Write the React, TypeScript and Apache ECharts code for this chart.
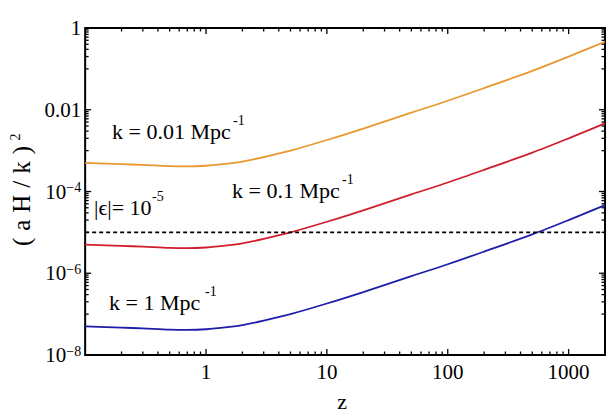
import React, { useEffect, useRef } from 'react';
import * as echarts from 'echarts';

// redshift sample points
const zValues = [0.1, 0.2, 0.3, 0.5, 0.7, 1, 1.5, 2, 3, 5, 10, 20, 50, 100, 200, 500, 1000, 2000];
// (aH/k)^2 for k = 0.01 Mpc^-1
const k001 = [5.0e-4, 4.68e-4, 4.47e-4, 4.17e-4, 4.12e-4, 4.27e-4, 4.79e-4, 5.37e-4, 6.92e-4, 1.0e-3, 1.82e-3, 3.47e-3, 8.51e-3, 1.66e-2, 3.39e-2, 8.91e-2, 0.2, 0.462];
// k = 0.1 Mpc^-1
const k01 = [5.0e-6, 4.68e-6, 4.47e-6, 4.17e-6, 4.12e-6, 4.27e-6, 4.79e-6, 5.37e-6, 6.92e-6, 1.0e-5, 1.82e-5, 3.47e-5, 8.51e-5, 1.66e-4, 3.39e-4, 8.91e-4, 2.0e-3, 4.65e-3];
// k = 1 Mpc^-1
const k1 = [5.0e-8, 4.68e-8, 4.47e-8, 4.17e-8, 4.12e-8, 4.27e-8, 4.79e-8, 5.37e-8, 6.92e-8, 1.0e-7, 1.82e-7, 3.47e-7, 8.51e-7, 1.66e-6, 3.39e-6, 8.91e-6, 2.0e-5, 4.65e-5];
// |epsilon| threshold
const epsilonLevel = 1e-5;

const X_MIN = 0.1;
const X_MAX = 2000;
const Y_MIN = 1e-8;
const Y_MAX = 1;

// tick definitions
const xMajorTicks = [1, 10, 100, 1000];
const xDecades = [0.1, 1, 10, 100, 1000];
const xMinorMultipliers = [2, 3, 4, 5, 6, 7, 8, 9];
const yMajorTicks = [1e-6, 1e-4, 1e-2];
const yMinorDecades = [1e-6, 1e-4, 1e-2, 1];
const yLabelExponents = [-8, -6, -4, -2, 0];
const yMinorMultipliers = [0.1, 0.2, 0.3, 0.4, 0.5, 0.6, 0.7, 0.8, 0.9];

// y-axis title characters
const yTitleChars = ['(', 'a', 'H', '/', 'k', ')'];
const yTitleSup = '2';

const SERIF = "'Liberation Serif', 'Times New Roman', serif";
const COLORS = { orange: '#E8982E', red: '#D01E2C', blue: '#1E1EA8' };

const MAJOR_LEN = 6;
const MINOR_LEN = 3.5;

export default function App() {
  const ref = useRef<HTMLDivElement>(null);

  useEffect(() => {
    if (!ref.current) return;
    const chart = echarts.init(ref.current, undefined, { renderer: 'svg' });

    const xTickData: number[][] = [];
    xMajorTicks.forEach((v) => xTickData.push([v, Y_MIN, MAJOR_LEN]));
    xDecades.forEach((d) =>
      xMinorMultipliers.forEach((m) => {
        const v = d * m;
        if (v < X_MAX) xTickData.push([v, Y_MIN, MINOR_LEN]);
      })
    );
    const yTickData: number[][] = [];
    yMajorTicks.forEach((v) => yTickData.push([X_MIN, v, MAJOR_LEN]));
    yMinorDecades.forEach((M) =>
      yMinorMultipliers.forEach((m) => yTickData.push([X_MIN, M * m, MINOR_LEN]))
    );

    const tickStyle = { stroke: '#000', lineWidth: 1.3 };

    const curve = (name: string, vals: number[], color: string) => ({
      type: 'line',
      name,
      data: zValues.map((z, i) => [z, vals[i]]),
      showSymbol: false,
      smooth: 0.3,
      lineStyle: { color, width: 1.8 },
      itemStyle: { color },
    });

    const series: any[] = [
      curve('k = 0.01', k001, COLORS.orange),
      curve('k = 0.1', k01, COLORS.red),
      curve('k = 1', k1, COLORS.blue),
      {
        type: 'line',
        name: 'epsilon',
        data: [
          [X_MIN, epsilonLevel],
          [X_MAX, epsilonLevel],
        ],
        showSymbol: false,
        lineStyle: { color: '#000', width: 1.6, type: [4, 3] },
      },
      {
        type: 'custom',
        name: 'xticks',
        clip: false,
        encode: { x: 0, y: 1 },
        data: xTickData,
        renderItem: (params: any, api: any) => {
          const v = api.value(0);
          const len = api.value(2);
          const b = api.coord([v, Y_MIN]);
          const t = api.coord([v, Y_MAX]);
          return {
            type: 'group',
            children: [
              { type: 'line', shape: { x1: b[0], y1: b[1], x2: b[0], y2: b[1] - len }, style: tickStyle },
              { type: 'line', shape: { x1: t[0], y1: t[1], x2: t[0], y2: t[1] + len }, style: tickStyle },
            ],
          };
        },
      },
      {
        type: 'custom',
        name: 'yticks',
        clip: false,
        encode: { x: 0, y: 1 },
        data: yTickData,
        renderItem: (params: any, api: any) => {
          const v = api.value(1);
          const len = api.value(2);
          const l = api.coord([X_MIN, v]);
          const r = api.coord([X_MAX, v]);
          return {
            type: 'group',
            children: [
              { type: 'line', shape: { x1: l[0], y1: l[1], x2: l[0] + len, y2: l[1] }, style: tickStyle },
              { type: 'line', shape: { x1: r[0], y1: r[1], x2: r[0] - len, y2: r[1] }, style: tickStyle },
            ],
          };
        },
      },
    ];

    const annFont = 22;
    const supFont = 14;
    const txt = (text: string, x: number, y: number, size: number, extra: any = {}) => ({
      type: 'text',
      x,
      y,
      silent: true,
      style: {
        text,
        fontSize: size,
        fontFamily: SERIF,
        fill: '#000',
        align: 'left',
        verticalAlign: 'middle',
        ...extra,
      },
    });

    const yTitle = yTitleChars.map((c) => `{c|${c}}`).join('') + `{s|${yTitleSup}}`;

    chart.setOption({
      animation: false,
      backgroundColor: '#fff',
      grid: {
        left: 77,
        right: 5,
        top: 28,
        bottom: 60,
        show: true,
        borderColor: '#000',
        borderWidth: 2,
        backgroundColor: 'transparent',
      },
      xAxis: {
        type: 'log',
        logBase: 10,
        min: X_MIN,
        max: X_MAX,
        splitNumber: 5,
        axisLine: { show: false },
        axisTick: { show: false },
        splitLine: { show: false },
        axisLabel: {
          margin: 6,
          fontSize: 21,
          fontFamily: SERIF,
          color: '#000',
          formatter: (v: number) => {
            const e = Math.round(Math.log10(v));
            if (Math.abs(Math.log10(v) - e) > 1e-6) return '';
            if (e < 0) return '';
            return String(Math.round(Math.pow(10, e)));
          },
        },
      },
      yAxis: {
        type: 'log',
        logBase: 10,
        min: Y_MIN,
        max: Y_MAX,
        splitNumber: 8,
        name: yTitle,
        nameLocation: 'middle',
        nameRotate: 90,
        nameGap: 48,
        nameTextStyle: {
          fontFamily: SERIF,
          color: '#000',
          rich: {
            c: { fontSize: 25, fontFamily: SERIF, color: '#000', lineHeight: 26, padding: [0, 3.5, 0, 3.5] },
            s: { fontSize: 14, fontFamily: SERIF, color: '#000', lineHeight: 18, verticalAlign: 'top', padding: [0, 0, 0, 2] },
          },
        },
        axisLine: { show: false },
        axisTick: { show: false },
        splitLine: { show: false },
        axisLabel: {
          margin: 4,
          fontSize: 21,
          fontFamily: SERIF,
          color: '#000',
          formatter: (v: number) => {
            const e = Math.round(Math.log10(v));
            if (yLabelExponents.indexOf(e) < 0) return '';
            if (e === 0) return '1';
            if (e === -2) return '0.01';
            return `{b|10}{s|\u2212${-e}}`;
          },
          rich: {
            b: { fontSize: 21, fontFamily: SERIF, color: '#000', lineHeight: 22 },
            s: { fontSize: 14, fontFamily: SERIF, color: '#000', lineHeight: 14, verticalAlign: 'top' },
          },
        },
      },
      series,
      graphic: [
        txt('k = 0.01 Mpc', 112, 131.5, annFont),
        txt('-1', 233, 120, supFont),
        txt('k = 0.1 Mpc', 232, 190.5, annFont),
        txt('-1', 342, 179, supFont),
        txt('|\u03f5|= 10', 94, 207.5, annFont),
        txt('-5', 152, 196, supFont),
        txt('k = 1 Mpc', 109, 302.5, annFont),
        txt('-1', 205, 291, supFont),
        txt('z', 342, 401, 22, { align: 'center' }),
      ],
    });

    return () => chart.dispose();
  }, []);

  return (
    <div
      ref={ref}
      style={{ position: 'absolute', left: 0, top: 0, width: 610, height: 415, background: '#fff' }}
    />
  );
}
